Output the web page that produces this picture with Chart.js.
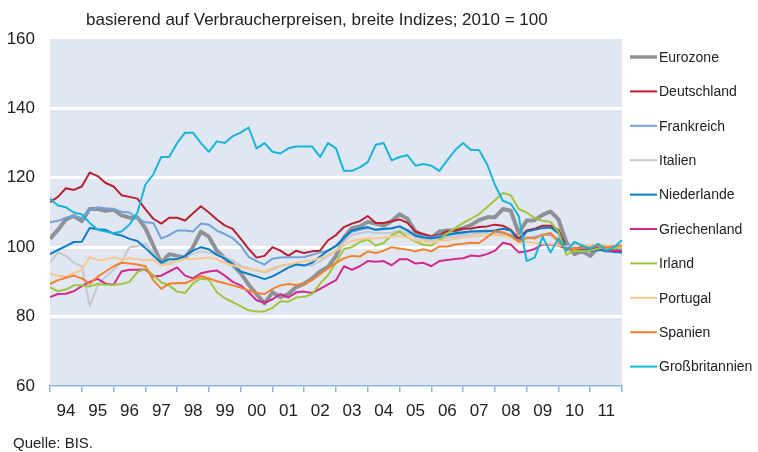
<!DOCTYPE html>
<html lang="de">
<head>
<meta charset="utf-8">
<script src="https://cdn.jsdelivr.net/npm/chart.js@4.4.1/dist/chart.umd.min.js"></script>
<style>
    html, body { margin: 0; padding: 0; background: #fff; }
    #wrap { position: relative; width: 758px; height: 452px; font-family: "Liberation Sans", Arial, sans-serif; color: #222; }
    #chart { position: absolute; left: 0; top: 0; }
    .title { position: absolute; left: 86px; top: 10px; font-size: 17px; line-height: 20px; white-space: nowrap; }
    .source { position: absolute; left: 13px; top: 434px; font-size: 15px; line-height: 18px; }
</style>
</head>
<body>
<div id="wrap">
    <canvas id="chart" width="758" height="452"></canvas>
    <div class="title">basierend auf Verbraucherpreisen, breite Indizes; 2010 = 100</div>
    <div class="source">Quelle: BIS.</div>
</div>
<script>
// Quartalswerte ab 1994 Q1 (letzter Wert = Jahresende 2011)
const startYear = 1994;
const endYear = 2012;
const yTicks = [60, 80, 100, 120, 140, 160];

const names = ['Eurozone', 'Deutschland', 'Frankreich', 'Italien', 'Niederlande',
    'Griechenland', 'Irland', 'Portugal', 'Spanien', 'Großbritannien'];

const eurozone = [102.4, 105, 108, 109, 107.5, 111, 111, 110.5, 110.8, 109.2, 108.5, 108.6,
    105.5, 100.5, 95.5, 98, 97.5, 97, 100, 104.5, 103, 99, 96.8, 95,
    92.5, 89.2, 86.5, 83.8, 87, 85.6, 86.5, 88.5, 89.5, 91, 93, 94.3,
    97.5, 102.8, 105.5, 106, 107.3, 106.8, 106.2, 107.5, 109.5, 108.2, 104.5, 103.3,
    102.6, 104.5, 104.8, 104.8, 105.5, 106.4, 107.8, 108.6, 108.6, 111, 110.5, 104,
    107.7, 107.8, 109.3, 110.3, 108, 101.4, 98, 98.8, 97.5, 100, 99, 99.4, 99];
const deutschland = [113, 114.5, 117, 116.5, 117.5, 121.5, 120.5, 118.5, 117.5, 115, 114.5, 114,
    111, 108.2, 106.8, 108.5, 108.5, 107.7, 109.8, 111.8, 110, 108, 106.3, 105.3,
    102.5, 99.5, 97, 97.5, 100, 99, 97.5, 99, 98.3, 98.8, 99, 102,
    103.5, 105.8, 106.8, 107.5, 109, 107, 107, 107.5, 108, 107, 104.5, 103.8,
    103.2, 103.5, 104.6, 104.8, 105.3, 105.4, 105.8, 106, 106.5, 106.2, 105, 102.5,
    104.8, 105.3, 106.2, 106.2, 105, 100, 99.6, 100, 99.8, 99.5, 99, 99, 99];
const frankreich = [107.2, 107.6, 108.5, 109, 108.5, 110.6, 111.5, 111.2, 111, 110.2, 110, 108.4,
    107.2, 107, 102.5, 103.5, 104.8, 104.8, 104.5, 106.8, 106.5, 104.8, 103.8, 102.6,
    100.5, 97.2, 96, 95, 96.7, 97, 97.1, 97.1, 97.2, 97.8, 98.5, 99,
    100.5, 102.5, 104.5, 105, 105.5, 105, 105.2, 105.5, 106, 105, 103.5, 103,
    102.8, 103.3, 103.6, 103.8, 104, 104.5, 104.6, 104.8, 104.5, 104, 103.5, 101.5,
    102.5, 103, 103.5, 103.5, 102.5, 100.5, 99.5, 100, 99.5, 100.5, 100, 99.8, 99.5];
const italien = [95.5, 98.5, 97.5, 95.5, 94.5, 83, 89, 91.5, 93.5, 95.7, 100, 100.3,
    101, 98.5, 95, 95.5, 96.8, 97.5, 98, 98.8, 98.4, 97.8, 97.2, 96.2,
    94.6, 94, 93.2, 92.8, 93.5, 94.5, 95, 95.2, 94.8, 94.7, 96, 97.5,
    99, 101.5, 103.5, 104, 104.5, 104, 104, 104.2, 104.8, 104, 102.8, 102.2,
    102, 102.3, 102.8, 103, 103.3, 103.6, 104, 104, 103.8, 103.6, 103, 101.8,
    102.5, 102.8, 103.5, 103.8, 102.5, 100, 99.4, 99.8, 99.5, 100.2, 100, 99.8, 99.6];
const niederlande = [98, 99.2, 100.3, 101.5, 101.6, 105.5, 105.2, 105, 103.9, 103.4, 102.4, 101.8,
    99.8, 97.6, 95.5, 96.5, 96.6, 97.5, 99, 100, 99.4, 97.8, 96.8, 95,
    93, 92.3, 91.6, 90.8, 91.6, 92.8, 94.1, 95, 94.7, 95.5, 97.3, 99,
    100.3, 102.8, 104.8, 105.4, 105.8, 105, 105.3, 105.4, 106, 104.8, 103.3, 102.8,
    102.6, 102.9, 103.5, 104, 104.3, 104.5, 104.6, 104.6, 104.8, 105.3, 104.8, 101.5,
    104.5, 105, 105.5, 105.7, 104, 100, 99, 99.5, 98.8, 99.2, 99, 98.6, 98.5];
const griechenland = [85.6, 86.5, 86.6, 87.3, 88.8, 90, 90.9, 89.5, 89.2, 93, 93.5, 93.5,
    93.6, 91.6, 91.8, 93, 94.2, 91.8, 91, 92.5, 93, 93.3, 91.8, 90,
    89, 87, 84.7, 84, 85, 86.5, 85.5, 87, 87.2, 86.8, 88, 89.3,
    90.5, 94.5, 93.5, 94.5, 96, 95.8, 96, 94.8, 96.5, 96.5, 95.3, 95.5,
    94.5, 96, 96.3, 96.6, 96.8, 97.6, 97.4, 98, 99, 101.3, 100.8, 98.5,
    98.8, 99.5, 100.8, 100.8, 100.5, 99.5, 99.2, 100, 99.3, 100, 99.2, 99, 99];
const irland = [88.5, 87.3, 87.8, 89, 89, 88.7, 89.4, 89.2, 89.2, 89.4, 90, 92.8,
    93.8, 92, 89.9, 89, 87.2, 86.8, 89.6, 91, 90.6, 87, 85.3, 84.2,
    83, 81.8, 81.5, 81.5, 82.5, 84.4, 84.3, 85.5, 85.7, 86.5, 89.5, 92,
    95.5, 99.5, 100, 101.5, 102.2, 100.5, 101.2, 103.5, 104.5, 102.9, 101.6, 100.7,
    100.5, 102, 104, 105.5, 107, 108.2, 109.5, 111.5, 113.5, 115.6, 115, 111,
    110, 108.4, 107.6, 107.3, 104.5, 97.8, 99, 98.8, 99, 99.6, 100, 99.6, 100];
const portugal = [92.3, 91.8, 91.6, 92.5, 93.5, 97.2, 96.2, 96.5, 97, 96.5, 96.8, 96.5,
    96.3, 96.4, 94.7, 95, 96, 96.6, 96.6, 96.8, 97.1, 96.6, 95.4, 94.8,
    94, 93.8, 93.4, 92.9, 94, 94.7, 95, 95.6, 95.9, 96.2, 96.8, 97.8,
    99, 100.5, 101.8, 102.3, 102.6, 102.5, 102.8, 103, 103.2, 102.8, 102, 101.6,
    101.4, 101.8, 102, 102.4, 102.8, 103, 103.2, 103.4, 103.5, 103.3, 102.8, 101.3,
    101.5, 101.2, 101, 101, 100.5, 100.2, 100.5, 100.8, 100.6, 100.8, 100.5, 100.3, 100.2];
const spanien = [89.4, 90.5, 91.2, 91.8, 91, 89.5, 91.5, 93, 94.5, 95.5, 95.3, 95,
    94.5, 90.5, 88, 89.5, 89.7, 89.6, 90.6, 91.7, 91, 90.2, 89.6, 89,
    88.4, 87.5, 86.8, 86.5, 88, 89, 89.4, 89.1, 89.4, 90.5, 92.2, 93.9,
    95.5, 96.8, 97.5, 97.3, 98.8, 98.3, 99, 100, 99.6, 99.3, 98.8, 99.4,
    98.8, 100.2, 100.2, 100.8, 101, 101.3, 101.2, 102.8, 104.6, 104.3, 103.3, 101.6,
    102.8, 102.5, 103.6, 104.1, 101.5, 99.2, 99.5, 99.8, 100, 100.5, 100, 100.3, 100.5];
const grossbritannien = [114, 112, 111.5, 110, 109.5, 107, 105, 104.5, 104, 104.5, 106.5, 110,
    118, 121, 126, 126, 130, 133, 133, 130, 127.5, 130.5, 130, 132,
    133, 134.5, 128.5, 130, 127.5, 127, 128.5, 129, 129, 129, 126, 130,
    128.5, 122, 122, 123, 124.5, 129.5, 130, 125, 126, 126.5, 123.5, 124,
    123.5, 122, 125, 128, 130, 128, 128, 124, 118, 113.4, 112.5, 109,
    96, 97, 103, 98.5, 102.5, 99, 101.5, 100.5, 99.5, 101, 99, 100, 102];

const series = [eurozone, deutschland, frankreich, italien, niederlande,
    griechenland, irland, portugal, spanien, grossbritannien];
const colors = ['#8E9196', '#B7212F', '#6FA3D9', '#C5C8CC', '#0B7DC6',
    '#D12A8E', '#9DC63D', '#F8C88F', '#F28230', '#17B5D9'];

const fontFamily = '"Liberation Sans", Arial, sans-serif';

// Hintergrund der Zeichenfläche
const plotBg = {
    id: 'plotBg',
    beforeDraw(chart) {
        const { ctx, chartArea: a } = chart;
        ctx.save();
        ctx.fillStyle = '#E0E7F3';
        ctx.fillRect(a.left, a.top, a.right - a.left, a.bottom - a.top);
        ctx.restore();
    }
};

// Legende rechts: kurze Linie + Name
const sideLegend = {
    id: 'sideLegend',
    afterDraw(chart) {
        const ctx = chart.ctx;
        ctx.save();
        ctx.font = '14px ' + fontFamily;
        ctx.textBaseline = 'middle';
        chart.data.datasets.forEach((ds, i) => {
            const y = 57 + i * 34.4;
            ctx.strokeStyle = ds.borderColor;
            ctx.lineWidth = i === 0 ? 3.5 : 2;
            ctx.beginPath();
            ctx.moveTo(630, y);
            ctx.lineTo(657, y);
            ctx.stroke();
            ctx.fillStyle = '#222';
            ctx.fillText(ds.label, 659, y + 1);
        });
        ctx.restore();
    }
};

const datasets = series.map((vals, i) => ({
    label: names[i],
    data: vals.map((v, k) => ({ x: startYear + k / 4, y: v })),
    borderColor: colors[i],
    backgroundColor: colors[i],
    borderWidth: i === 0 ? 4 : 2,
    pointRadius: 0,
    tension: 0,
    borderJoinStyle: 'round',
    order: 10 - i
}));

const ctx = document.getElementById('chart').getContext('2d');
new Chart(ctx, {
    type: 'line',
    data: { datasets: datasets },
    options: {
        responsive: false,
        animation: false,
        devicePixelRatio: 1,
        layout: { padding: { top: 39, right: 136, left: 0, bottom: 0 } },
        plugins: {
            legend: { display: false },
            tooltip: { enabled: false }
        },
        scales: {
            x: {
                type: 'linear',
                min: startYear,
                max: endYear,
                ticks: {
                    stepSize: 1,
                    autoSkip: false,
                    maxRotation: 0,
                    labelOffset: 16,
                    padding: 9,
                    color: '#222',
                    font: { family: fontFamily, size: 17 },
                    callback: (v) => v < endYear ? String(v % 100).padStart(2, '0') : ''
                },
                grid: { drawOnChartArea: false, color: '#8DB4E2', tickLength: 6, lineWidth: 1.5 },
                border: { color: '#8DB4E2', width: 1.5 },
                afterFit: (s) => { s.height = 66; }
            },
            y: {
                min: yTicks[0],
                max: yTicks[yTicks.length - 1],
                afterBuildTicks: (s) => { s.ticks = yTicks.map(v => ({ value: v })); },
                ticks: {
                    padding: 15,
                    color: '#222',
                    font: { family: fontFamily, size: 17 }
                },
                grid: {
                    color: (c) => (c.tick && (c.tick.value === 60 || c.tick.value === 160)) ? 'rgba(0,0,0,0)' : '#ffffff',
                    lineWidth: 3,
                    drawTicks: false
                },
                border: { display: false },
                afterFit: (s) => { s.width = 50; }
            }
        }
    },
    plugins: [plotBg, sideLegend]
});
</script>
</body>
</html>
